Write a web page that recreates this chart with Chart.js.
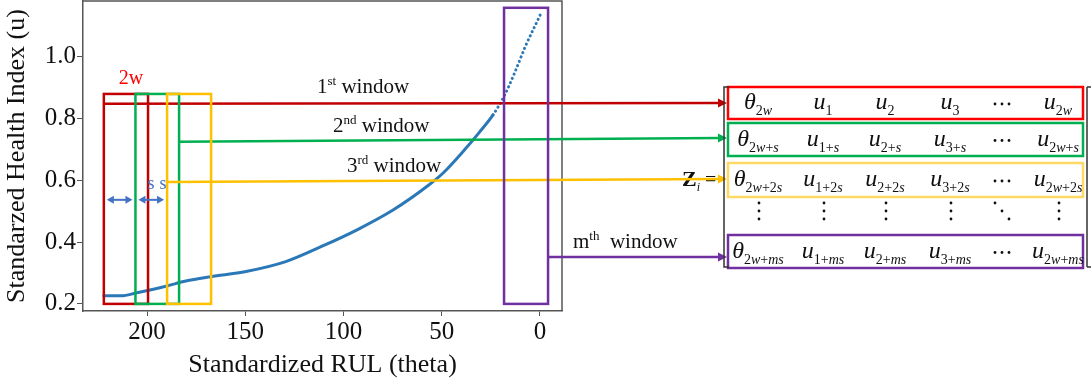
<!DOCTYPE html>
<html>
<head>
<meta charset="utf-8">
<script src="https://cdn.jsdelivr.net/npm/chart.js@4"></script>
<style>
  html, body { margin: 0; padding: 0; background: #fff; }
</style>
</head>
<body>
<canvas id="myChart" width="1091" height="381"></canvas>
<script>
// health index curve
var rul = [222, 213, 205.7, 198.5, 189.4, 180.3, 167.6, 149.6, 129.4, 111.2, 93.1, 74.8, 56.6, 49.3, 38.4, 31.1, 23.9, 18.4, 13, 7.5, -0.5]
var healthIdx = [0.226, 0.226, 0.235, 0.245, 0.259, 0.274, 0.288, 0.305, 0.337, 0.386, 0.44, 0.504, 0.585, 0.624, 0.699, 0.754, 0.812, 0.871, 0.947, 1.033, 1.141]

var xTicks = [0, 50, 100, 150, 200]
var yTicks = [0.2, 0.4, 0.6, 0.8, 1.0]

// sliding windows (RUL range and HI height)
var winFrom = [222, 205.9, 189.8, 18.3]
var winTo = [199.5, 183.7, 167.4, -4.1]
var winTop = [0.88, 0.88, 0.88, 1.159]
var winBottom = 0.2
var lineStart = [222, 183.7, 189.8, -4.1]
var lineU = [0.848, 0.725, 0.595, 0.352]
var winColors = ['#c00000', '#00b050', '#ffc000', '#7030a0']
var winLabels = [['1', 'st', ' window'], ['2', 'nd', ' window'], ['3', 'rd', ' window'], ['m', 'th', '  window']]

// matrix rows
var rowSuffix = ['', '+s', '+2s', '+ms']
var colSubs = ['2w', '1', '2', '3', '', '2w']
var rowColors = ['#ff0000', '#00b050', '#ffd966', '#7030a0']

var SERIF = '"Liberation Serif", "Times New Roman", serif'
Chart.defaults.font.family = SERIF

function richText(c, x, y, parts, align) {
    var w = 0
    parts.forEach(function (p) { c.font = p[1]; w += c.measureText(p[0]).width })
    var cx = align === 'center' ? x - w / 2 : x
    c.textAlign = 'left'
    c.textBaseline = 'alphabetic'
    parts.forEach(function (p) {
        c.font = p[1]
        c.fillText(p[0], cx, y + (p[2] || 0))
        cx += c.measureText(p[0]).width
    })
}

function mathParts(main, sub) {
    var parts = [[main, 'italic 24px ' + SERIF, 0]]
    sub.split('').forEach(function (ch) {
        parts.push([ch, (/[a-z]/.test(ch) ? 'italic ' : '') + '14px ' + SERIF, 6])
    })
    return parts
}

function arrow(c, x1, y1, x2, y2, color) {
    var ang = Math.atan2(y2 - y1, x2 - x1)
    c.strokeStyle = color
    c.fillStyle = color
    c.lineWidth = 2.5
    c.beginPath()
    c.moveTo(x1, y1)
    c.lineTo(x2 - 7 * Math.cos(ang), y2 - 7 * Math.sin(ang))
    c.stroke()
    c.beginPath()
    c.moveTo(x2, y2)
    c.lineTo(x2 - 9 * Math.cos(ang) + 4.5 * Math.sin(ang), y2 - 9 * Math.sin(ang) - 4.5 * Math.cos(ang))
    c.lineTo(x2 - 9 * Math.cos(ang) - 4.5 * Math.sin(ang), y2 - 9 * Math.sin(ang) + 4.5 * Math.cos(ang))
    c.closePath()
    c.fill()
}

function dot(c, x, y) {
    c.beginPath()
    c.arc(x, y, 1.4, 0, Math.PI * 2)
    c.fill()
}

var overlay = {
    id: 'overlay',
    afterDatasetsDraw: function (chart) {
        var c = chart.ctx, xs = chart.scales.x, ys = chart.scales.y, a = chart.chartArea
        c.save()

        // frame top / right
        c.strokeStyle = '#555'
        c.lineWidth = 1.5
        c.beginPath()
        c.moveTo(a.left, a.top)
        c.lineTo(a.right, a.top)
        c.lineTo(a.right, a.bottom)
        c.stroke()

        // texts in the plot
        c.fillStyle = '#111'
        var labelPos = [[317, 93], [333, 132], [347, 172], [573, 248]]
        winLabels.forEach(function (l, i) {
            richText(c, labelPos[i][0], labelPos[i][1], [[l[0], '21px ' + SERIF, 0], [l[1], '13px ' + SERIF, -8], [l[2], '21px ' + SERIF, 0]], 'left')
        })
        c.fillStyle = '#ff0000'
        richText(c, 131, 84, [['2w', '20px ' + SERIF, 0]], 'center')

        // Z_i =
        c.fillStyle = '#111'
        richText(c, 682, 186, [['Z', 'bold 22px ' + SERIF, 0], ['i', 'italic 12px ' + SERIF, 5], [' =', '20px ' + SERIF, 0]], 'left')

        // window boxes and lines to the matrix
        var tableLeft = 727
        var endY = [103, 138, 179, 257]
        for (var i = 0; i < 4; i++) {
            var x1 = xs.getPixelForValue(winFrom[i]), x2 = xs.getPixelForValue(winTo[i])
            var yT = ys.getPixelForValue(winTop[i]), yB = ys.getPixelForValue(winBottom)
            c.strokeStyle = winColors[i]
            c.lineWidth = 2.5
            c.strokeRect(x1, yT, x2 - x1, yB - yT)
            arrow(c, xs.getPixelForValue(lineStart[i]), ys.getPixelForValue(lineU[i]), tableLeft, endY[i], winColors[i])
        }

        // step arrows "s"
        var yS = ys.getPixelForValue(0.537)
        c.strokeStyle = '#4472c4'
        c.fillStyle = '#4472c4'
        c.lineWidth = 2
        for (var k = 0; k < 2; k++) {
            var l = xs.getPixelForValue(winFrom[k]) + 3, r = xs.getPixelForValue(winFrom[k + 1]) - 3
            c.beginPath(); c.moveTo(l + 5, yS); c.lineTo(r - 5, yS); c.stroke()
            c.beginPath(); c.moveTo(l, yS); c.lineTo(l + 7, yS - 4); c.lineTo(l + 7, yS + 4); c.closePath(); c.fill()
            c.beginPath(); c.moveTo(r, yS); c.lineTo(r - 7, yS - 4); c.lineTo(r - 7, yS + 4); c.closePath(); c.fill()
        }
        richText(c, 151, 189, [['s', '18px ' + SERIF, 0]], 'center')
        richText(c, 163, 189, [['s', '18px ' + SERIF, 0]], 'center')

        // matrix
        var rowTop = [87, 123, 163, 235]
        var rowBot = [119, 156, 197, 268]
        var colX = [758, 823, 885, 950, 1002, 1058]
        rowSuffix.forEach(function (suf, r) {
            c.strokeStyle = rowColors[r]
            c.lineWidth = 2.5
            c.strokeRect(728, rowTop[r], 1083 - 728, rowBot[r] - rowTop[r])
            var cy = (rowTop[r] + rowBot[r]) / 2
            c.fillStyle = '#111'
            colSubs.forEach(function (s, j) {
                if (j === 4) {
                    dot(c, colX[j] - 7, cy + 1); dot(c, colX[j], cy + 1); dot(c, colX[j] + 7, cy + 1)
                    return
                }
                var sub = (r === 0 || s === '') ? s : s + suf
                richText(c, colX[j], cy + 6, mathParts(j === 0 ? '\u03b8' : 'u', sub), 'center')
            })
        })
        c.fillStyle = '#111'
        colX.forEach(function (x, j) {
            if (j === 4) {
                dot(c, x - 7, 203); dot(c, x, 211); dot(c, x + 7, 219)
            } else {
                dot(c, x + 1, 203); dot(c, x + 1, 211); dot(c, x + 1, 219)
            }
        })

        // brackets
        c.strokeStyle = '#333'
        c.lineWidth = 1.5
        c.beginPath()
        c.moveTo(729, 87); c.lineTo(724, 87); c.lineTo(724, 267); c.lineTo(729, 267)
        c.moveTo(1087, 87); c.lineTo(1087, 267)
        c.moveTo(1087, 87); c.lineTo(1091, 87)
        c.moveTo(1087, 267); c.lineTo(1091, 267)
        c.stroke()

        c.restore()
    }
}

var ctx = document.getElementById('myChart').getContext('2d')
var chart = new Chart(ctx, {
    type: 'scatter',
    data: {
        datasets: [{
            data: rul.map(function (x, i) { return { x: x, y: healthIdx[i] } }),
            showLine: true,
            borderColor: '#2a78b8',
            borderWidth: 3,
            borderCapStyle: 'round',
            pointRadius: 0,
            cubicInterpolationMode: 'monotone',
            segment: {
                borderDash: function (s) { return s.p0.parsed.x < 25 ? [0.1, 4.5] : undefined }
            }
        }]
    },
    options: {
        responsive: false,
        animation: false,
        layout: { padding: { left: 0, top: 1, right: 529, bottom: 0 } },
        plugins: { legend: { display: false }, tooltip: { enabled: false } },
        scales: {
            x: {
                type: 'linear',
                reverse: true,
                min: -11.2,
                max: 232.6,
                afterBuildTicks: function (scale) { scale.ticks = xTicks.map(function (v) { return { value: v } }) },
                afterFit: function (scale) { scale.height = 70; scale.paddingLeft = 0; scale.paddingRight = 0 },
                grid: { drawOnChartArea: false, drawTicks: true, tickLength: 5, color: '#555' },
                border: { display: true, color: '#555', width: 1.5 },
                ticks: { color: '#111', font: { size: 25 }, padding: 1, maxRotation: 0, callback: function (v) { return String(v) } },
                title: { display: true, text: 'Standardized RUL (theta)', color: '#111', font: { size: 26 }, padding: { top: 0, bottom: 0 } }
            },
            y: {
                min: 0.177,
                max: 1.181,
                afterBuildTicks: function (scale) { scale.ticks = yTicks.map(function (v) { return { value: v } }) },
                afterFit: function (scale) { scale.width = 83; scale.paddingTop = 0; scale.paddingBottom = 0 },
                grid: { drawOnChartArea: false, drawTicks: true, tickLength: 6, color: '#555' },
                border: { display: true, color: '#555', width: 1.5 },
                ticks: { color: '#111', font: { size: 25 }, padding: 1, callback: function (v) { return v.toFixed(1) } },
                title: { display: true, text: 'Standarzed Health Index (u)', color: '#111', font: { size: 26 }, padding: { top: 2, bottom: 0 } }
            }
        }
    },
    plugins: [overlay]
})
</script>
</body>
</html>
